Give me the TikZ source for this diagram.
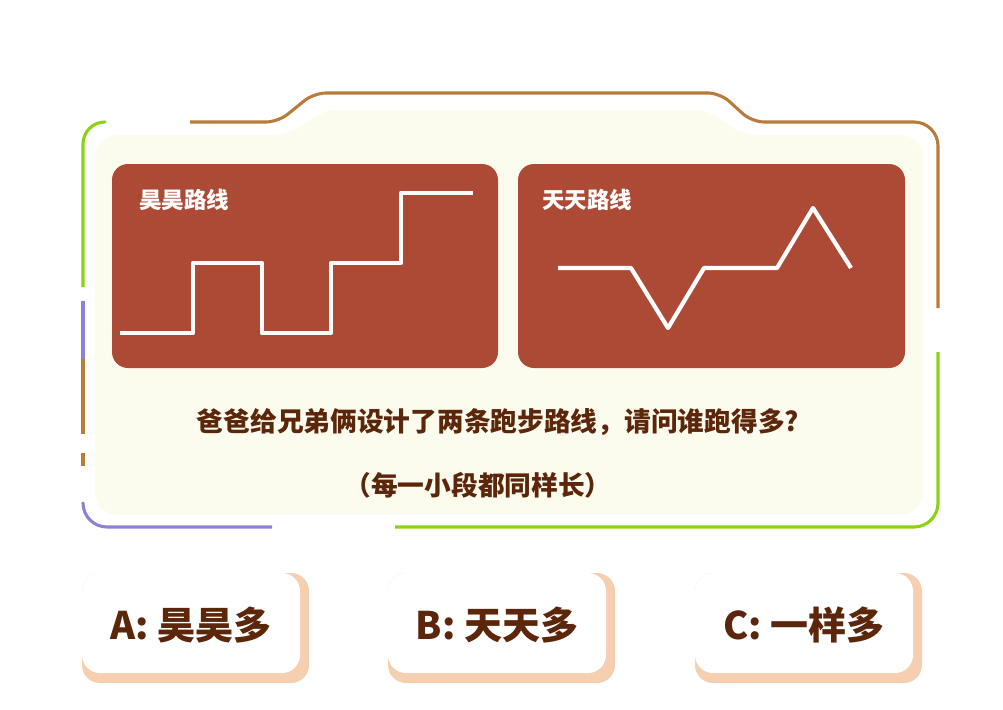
\documentclass[tikz,border=0pt]{standalone}
\usepackage{fontspec}
\setmainfont{Noto Sans CJK SC}
\usetikzlibrary{positioning}

\definecolor{panelred}{HTML}{AC4A36}
\definecolor{cream}{HTML}{FCFCEE}
\definecolor{framebrown}{HTML}{B97B3A}
\definecolor{framegreen}{HTML}{8CD212}
\definecolor{framepurple}{HTML}{8E80D7}
\definecolor{textbrown}{HTML}{5B260A}
\definecolor{peach}{HTML}{F5CFB0}

\begin{document}
\begin{tikzpicture}
  [x=0.025cm,y=-0.025cm,line join=round,
  frame line/.style={line width=2.2pt},
  route/.style={draw=white,line width=3pt},
  panel/.style={fill=panelred,rounded corners=0.4cm},
  panel title/.style={anchor=west,inner sep=0pt,text=white,font=\bfseries\fontsize{16}{18}\selectfont},
  question/.style={text=textbrown,font=\bfseries\fontsize{19}{21}\selectfont},
  choice/.style={fill=white,rounded corners=0.45cm},
  choice shadow/.style={fill=peach,rounded corners=0.45cm},
  choice text/.style={text=textbrown,font=\bfseries\fontsize{27}{30}\selectfont}]
  \useasboundingbox (0,0) rectangle (1003,709);

  % card background with tab
  \fill[cream,rounded corners=0.55cm] (95,515) -- (95,135)
    [rounded corners=0.35cm] -- (288,135) -- (324,110) -- (708,110) -- (744,135)
    [rounded corners=0.55cm] -- (923,135) -- (923,515) -- cycle;

  % broken outline
  \draw[frame line,framebrown] (190,122) [rounded corners=0.3cm] -- (278,122) -- (314,93)
    -- (720,93) -- (752,122) [rounded corners=0.6cm] -- (938,122) -- (938,308);
  \draw[frame line,framegreen,rounded corners=0.55cm] (105,122) -- (83,122) -- (83,287);
  \draw[frame line,framepurple] (83,301) -- (83,359);
  \draw[frame line,framebrown] (83,359) -- (83,434);
  \draw[frame line,framebrown] (83,453) -- (83,466);
  \draw[frame line,framepurple,rounded corners=0.6cm] (83,503) -- (83,527) -- (272,527);
  \draw[frame line,framegreen,rounded corners=0.6cm] (395,527) -- (938,527) -- (938,352);

  % two route panels
  \fill[panel] (112,164) rectangle (498,368);
  \fill[panel] (518,164) rectangle (905,368);
  \node[panel title] (hao title) at (139,200) {昊昊路线};
  \node[panel title] (tian title) at (542,200) {天天路线};
  \draw[route] (120,333) -- (193,333) -- (193,263) -- (262,263) -- (262,333)
    -- (331,333) -- (331,263) -- (401,263) -- (401,193) -- (473,193);
  \draw[route] (558,268) -- (631,268) -- (668,328) -- (704,268) -- (777,268)
    -- (813,208) -- (851,268);

  \node[question] (ask) at (498,422) {爸爸给兄弟俩设计了两条跑步路线，请问谁跑得多?};
  \node[question] (hint) at (478,485) {（每一小段都同样长）};

  % answer choices
  \foreach \x/\lbl/\txt in {82/a/A: 昊昊多,388/b/B: 天天多,695/c/C: 一样多}{
    \fill[choice shadow] (\x,573) rectangle (\x+227,683);
    \fill[choice] (\x,573) rectangle (\x+218,673);
    \node[choice text] (choice \lbl) at (\x+109,625) {\txt};
  }
\end{tikzpicture}
\end{document}
